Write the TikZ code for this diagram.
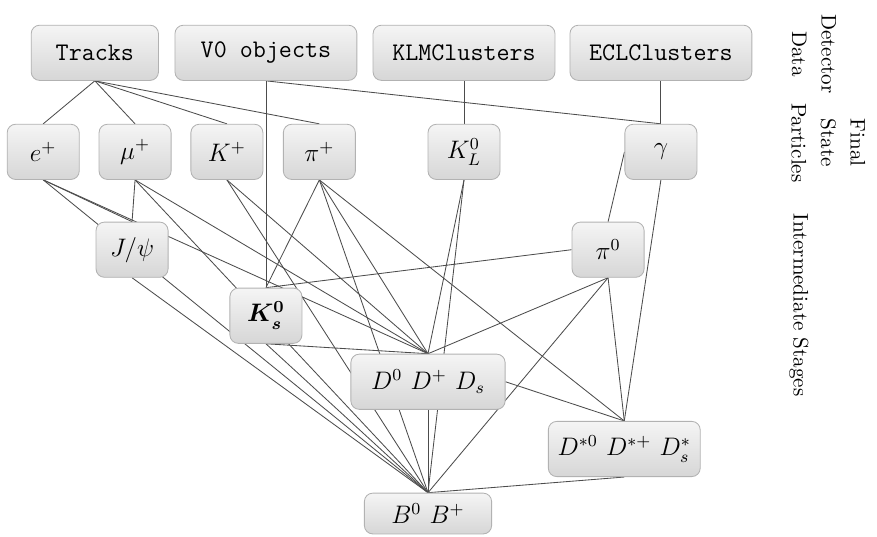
\documentclass[tikz,border=0pt]{standalone}
\usepackage{amsmath}
\usetikzlibrary{backgrounds}
\begin{document}
\begin{tikzpicture}[caja/.style={rounded corners=4pt, draw=gray!60, top color=gray!8, bottom color=gray!32, font=\large, inner sep=2pt, minimum height=0.92cm, minimum width=1.2cm},
  etiqueta/.style={rotate=-90, align=center, font=\fontsize{10}{14}\selectfont},
  arista/.style={draw=black!70, line width=0.4pt}]
  % Datos del detector
  \node[caja, minimum width=2.12cm] (tr) at (1.58,8.05) {\texttt{Tracks}};
  \node[caja, minimum width=3.03cm] (v0) at (4.43,8.05) {\texttt{V0 objects}};
  \node[caja, minimum width=3.03cm] (klm) at (7.73,8.05) {\texttt{KLMClusters}};
  \node[caja, minimum width=3.03cm] (ecl) at (11.01,8.05) {\texttt{ECLClusters}};

  % Particulas de estado final
  \node[caja] (e) at (0.72,6.40) {$e^+$};
  \node[caja] (mu) at (2.25,6.40) {$\mu^+$};
  \node[caja] (k) at (3.78,6.40) {$K^+$};
  \node[caja] (pi) at (5.32,6.40) {$\pi^+$};
  \node[caja] (kl) at (7.73,6.40) {$K_L^0$};
  \node[caja] (ga) at (11.01,6.40) {$\gamma$};

  % Etapas intermedias
  \node[caja] (jpsi) at (2.20,4.77) {$J/\psi$};
  \node[caja] (pi0) at (10.13,4.77) {$\pi^0$};
  \node[caja] (ks) at (4.43,3.67) {$\boldsymbol{K_s^0}$};
  \node[caja, minimum width=2.57cm] (d) at (7.13,2.57) {$D^0$ $D^+$ $D_s$};
  \node[caja, minimum width=2.53cm] (dst) at (10.40,1.45) {$D^{*0}$ $D^{*+}$ $D^*_s$};
  \node[caja, minimum width=2.12cm, minimum height=0.68cm] (b) at (7.13,0.375) {$B^0$ $B^+$};

  % Aristas (debajo de las cajas)
  \begin{pgfonlayer}{background}
    \draw[arista] (tr.south) -- (e.north);
    \draw[arista] (tr.south) -- (mu.north);
    \draw[arista] (tr.south) -- (k.north);
    \draw[arista] (tr.south) -- (pi.north);
    \draw[arista] (v0.south) -- (ks.north);
    \draw[arista] (v0.south) -- (ga.north);
    \draw[arista] (klm.south) -- (kl.north);
    \draw[arista] (ecl.south) -- (ga.north);

    \draw[arista] (e.south) -- (jpsi.north);
    \draw[arista] (e.south) -- (d.north);
    \draw[arista] (e.south) -- (b.north);
    \draw[arista] (mu.south) -- (jpsi.north);
    \draw[arista] (mu.south) -- (d.north);
    \draw[arista] (mu.south) -- (b.north);
    \draw[arista] (k.south) -- (d.north);
    \draw[arista] (k.south) -- (b.north);
    \draw[arista] (pi.south) -- (ks.north);
    \draw[arista] (pi.south) -- (d.north);
    \draw[arista] (pi.south) -- (dst.north);
    \draw[arista] (pi.south) -- (b.north);
    \draw[arista] (kl.south) -- (d.north);
    \draw[arista] (kl.south) -- (b.north);
    \draw[arista] (ga.south) -- (dst.north);
    \draw[arista] (pi0.north) -- (ga.west);

    \draw[arista] (pi0.west) -- (ks.north);
    \draw[arista] (pi0.south) -- (d.north);
    \draw[arista] (pi0.south) -- (dst.north);
    \draw[arista] (pi0.south) -- (b.north);
    \draw[arista] (jpsi.south) -- (b.north);
    \draw[arista] (ks.south) -- (d.north);
    \draw[arista] (ks.south) -- (b.north);
    \draw[arista] (d.east) -- (dst.north);
    \draw[arista] (d.south) -- (b.north);
    \draw[arista] (dst.south) -- (b.north);
  \end{pgfonlayer}

  % Niveles
  \node[etiqueta] (lbl1) at (13.56,8.03) {Detector\\Data};
  \node[etiqueta] (lbl2) at (13.80,6.55) {Final\\State\\Particles};
  \node[etiqueta] (lbl3) at (13.31,3.85) {Intermediate Stages};

  \useasboundingbox (0,0) rectangle (14.61,8.93);
\end{tikzpicture}
\end{document}
